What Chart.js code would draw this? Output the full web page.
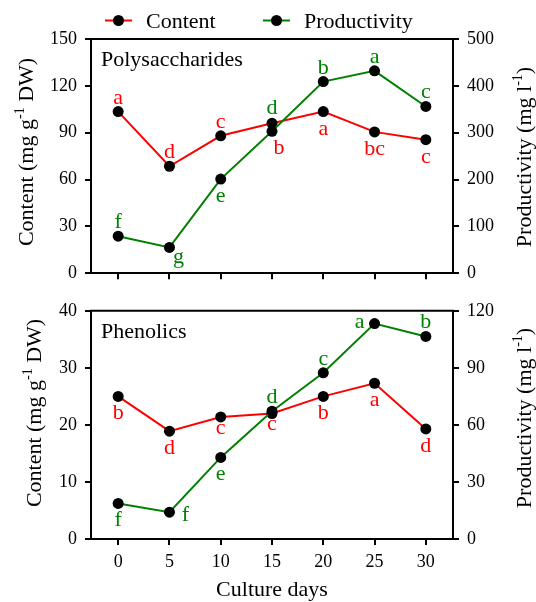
<!DOCTYPE html>
<html><head><meta charset="utf-8">
<script src="https://cdn.jsdelivr.net/npm/chart.js@4.4.1/dist/chart.umd.min.js"></script>
<style>
html,body{margin:0;padding:0;background:#fff;}
#wrap{position:relative;width:536px;height:602px;overflow:hidden;}
canvas{position:absolute;left:0;}
#c1{top:0;} #c2{top:292px;}
</style></head><body>
<div id="wrap"><canvas id="c1" width="536" height="292"></canvas><canvas id="c2" width="536" height="310"></canvas></div>
<script>
// ---- data ----
const days = [0, 5, 10, 15, 20, 25, 30];
const xTickLabels = [0, 5, 10, 15, 20, 25, 30];

const polyContent = [103.5, 68.5, 88, 96, 103.5, 90.5, 85.5];
const polyProductivity = [79, 55, 201, 303, 409, 432, 356];
const polyContentLetters = ['a', 'd', 'c', 'b', 'a', 'bc', 'c'];
const polyProductivityLetters = ['f', 'g', 'e', 'd', 'b', 'a', 'c'];
const polyContentTicks = [0, 30, 60, 90, 120, 150];
const polyProductivityTicks = [0, 100, 200, 300, 400, 500];

const phenContent = [25.0, 18.9, 21.4, 22.0, 25.0, 27.3, 19.3];
const phenProductivity = [18.7, 14.1, 42.9, 67.2, 87.4, 113.3, 106.5];
const phenContentLetters = ['b', 'd', 'c', 'c', 'b', 'a', 'd'];
const phenProductivityLetters = ['f', 'f', 'e', 'd', 'c', 'a', 'b'];
const phenContentTicks = [0, 10, 20, 30, 40];
const phenProductivityTicks = [0, 30, 60, 90, 120];

// ---- label placement (layout only) ----
const polyContentPlace = ['above', 'above', 'above', 'belowFar', 'below', 'below', 'below'];
const polyProductivityPlace = ['above', 'belowRight', 'below', 'aboveFar', 'above', 'above', 'above'];
const phenContentPlace = ['below', 'below', 'belowNear', 'belowNear', 'below', 'below', 'below'];
const phenProductivityPlace = ['below', 'right', 'below', 'above', 'above', 'left', 'above'];

const PLACE = {
  above: [0, -8], aboveFar: [0, -17], below: [0, 23], belowNear: [0, 17],
  belowFar: [7, 31], belowRight: [9, 16], left: [-15, 4], right: [16, 9]
};

const FONT = '"Liberation Serif", "Times New Roman", serif';
const RED = '#ff0000', GREEN = '#008000';
Chart.defaults.font.family = FONT;
Chart.defaults.color = '#000';

function drawRotated(ctx, parts, xb, yc) {
  ctx.save();
  ctx.translate(xb, yc);
  ctx.rotate(-Math.PI / 2);
  ctx.textBaseline = 'alphabetic';
  ctx.textAlign = 'left';
  let total = 0;
  const w = parts.map(p => { ctx.font = p.sup ? '14px ' + FONT : '22px ' + FONT; const m = ctx.measureText(p.t).width; total += m; return m; });
  let x = -total / 2;
  parts.forEach((p, i) => {
    ctx.font = p.sup ? '14px ' + FONT : '22px ' + FONT;
    ctx.fillStyle = '#000';
    ctx.fillText(p.t, x, p.sup ? -9 : 0);
    x += w[i];
  });
  ctx.restore();
}

const overlay = {
  id: 'overlay',
  afterDatasetsDraw(chart, args, o) {
    const ctx = chart.ctx;
    ctx.save();
    ctx.font = '22px ' + FONT;
    ctx.textAlign = 'center';
    ctx.textBaseline = 'alphabetic';
    o.letters.forEach(L => {
      const meta = chart.getDatasetMeta(L.ds);
      ctx.fillStyle = chart.data.datasets[L.ds].borderColor;
      meta.data.forEach((pt, j) => {
        const off = PLACE[L.place[j]];
        ctx.fillText(L.text[j], pt.x + off[0], pt.y + off[1]);
      });
    });
    ctx.restore();
  },
  afterDraw(chart, args, o) {
    const ctx = chart.ctx, ca = chart.chartArea;
    ctx.save();
    ctx.strokeStyle = '#000';
    ctx.lineWidth = 2;
    ctx.beginPath();
    ctx.moveTo(ca.left - 1, ca.top);
    ctx.lineTo(ca.right + 1, ca.top);
    ctx.stroke();
    ctx.fillStyle = '#000';
    ctx.font = '22px ' + FONT;
    ctx.textAlign = 'left';
    ctx.textBaseline = 'alphabetic';
    ctx.fillText(o.panel, ca.left + 10, ca.top + 27);
    drawRotated(ctx, o.leftTitle.parts, o.leftTitle.x, o.leftTitle.y);
    drawRotated(ctx, o.rightTitle.parts, o.rightTitle.x, o.rightTitle.y);
    if (o.xTitle) {
      ctx.textAlign = 'center';
      ctx.font = '22px ' + FONT;
      ctx.fillText(o.xTitle.text, o.xTitle.x, o.xTitle.y);
    }
    if (o.legend) {
      const items = [{ x: 105, ds: 0 }, { x: 263, ds: 1 }];
      const ly = 20.5;
      items.forEach(it => {
        const d = chart.data.datasets[it.ds];
        ctx.strokeStyle = d.borderColor;
        ctx.lineWidth = 2;
        ctx.beginPath();
        ctx.moveTo(it.x, ly);
        ctx.lineTo(it.x + 27, ly);
        ctx.stroke();
        ctx.fillStyle = '#000';
        ctx.beginPath();
        ctx.arc(it.x + 13.5, ly, 5.5, 0, Math.PI * 2);
        ctx.fill();
        ctx.font = '22px ' + FONT;
        ctx.textAlign = 'left';
        ctx.textBaseline = 'alphabetic';
        ctx.fillText(d.label, it.x + 41, ly + 7);
      });
    }
    ctx.restore();
  }
};

function axisCommon() {
  return {
    grid: { drawOnChartArea: false, drawTicks: true, tickLength: 6, color: '#000', lineWidth: 2 },
    border: { display: true, color: '#000', width: 2 },
  };
}

function makePanel(canvas, cfg) {
  const pts = arr => days.map((d, i) => ({ x: d, y: arr[i] }));
  return new Chart(canvas, {
    type: 'line',
    data: {
      datasets: [
        { label: 'Content', data: pts(cfg.content), yAxisID: 'y', borderColor: RED, borderWidth: 2,
          pointRadius: 5.5, pointBackgroundColor: '#000', pointBorderColor: '#000', pointBorderWidth: 0, order: 1, tension: 0 },
        { label: 'Productivity', data: pts(cfg.productivity), yAxisID: 'y1', borderColor: GREEN, borderWidth: 2,
          pointRadius: 5.5, pointBackgroundColor: '#000', pointBorderColor: '#000', pointBorderWidth: 0, order: 0, tension: 0 }
      ]
    },
    options: {
      responsive: false,
      animation: false,
      devicePixelRatio: 1,
      layout: { padding: { top: cfg.padTop, bottom: 0, left: 0, right: 0 }, autoPadding: false },
      plugins: {
        legend: { display: false },
        tooltip: { enabled: false },
        overlay: cfg.overlay
      },
      scales: {
        x: Object.assign(axisCommon(), {
          type: 'linear', position: 'bottom', min: -2.65, max: 32.65,
          afterBuildTicks: s => { s.ticks = xTickLabels.map(v => ({ value: v })); },
          afterFit: s => { s.height = cfg.xHeight; },
          ticks: { display: cfg.xLabels, font: { size: 18 }, color: '#000', padding: 6, maxRotation: 0, autoSkip: false }
        }),
        y: Object.assign(axisCommon(), {
          position: 'left', min: 0, max: cfg.leftTicks[cfg.leftTicks.length - 1],
          afterBuildTicks: s => { s.ticks = cfg.leftTicks.map(v => ({ value: v })); },
          afterFit: s => { s.width = 91; },
          ticks: { font: { size: 18 }, color: '#000', padding: 8 }
        }),
        y1: Object.assign(axisCommon(), {
          position: 'right', min: 0, max: cfg.rightTicks[cfg.rightTicks.length - 1],
          afterBuildTicks: s => { s.ticks = cfg.rightTicks.map(v => ({ value: v })); },
          afterFit: s => { s.width = 83; },
          ticks: { font: { size: 18 }, color: '#000', padding: 8 }
        })
      }
    },
    plugins: [overlay]
  });
}

const contentTitle = [{ t: 'Content (mg g' }, { t: '-1', sup: true }, { t: ' DW)' }];
const prodTitle = [{ t: 'Productivity (mg l' }, { t: '-1', sup: true }, { t: ')' }];

makePanel(document.getElementById('c1'), {
  content: polyContent, productivity: polyProductivity,
  leftTicks: polyContentTicks, rightTicks: polyProductivityTicks,
  padTop: 39, xHeight: 13, xLabels: false,
  overlay: {
    panel: 'Polysaccharides', legend: true,
    letters: [
      { ds: 0, text: polyContentLetters, place: polyContentPlace },
      { ds: 1, text: polyProductivityLetters, place: polyProductivityPlace }
    ],
    leftTitle: { parts: contentTitle, x: 33, y: 152 },
    rightTitle: { parts: prodTitle, x: 531, y: 157 },
    xTitle: null
  }
});

makePanel(document.getElementById('c2'), {
  content: phenContent, productivity: phenProductivity,
  leftTicks: phenContentTicks, rightTicks: phenProductivityTicks,
  padTop: 8, xHeight: 63, xLabels: true,
  overlay: {
    panel: 'Phenolics', legend: false,
    letters: [
      { ds: 0, text: phenContentLetters, place: phenContentPlace },
      { ds: 1, text: phenProductivityLetters, place: phenProductivityPlace }
    ],
    leftTitle: { parts: contentTitle, x: 41, y: 413 - 292 },
    rightTitle: { parts: prodTitle, x: 531, y: 418 - 292 },
    xTitle: { text: 'Culture days', x: 272, y: 596 - 292 }
  }
});
</script>
</body></html>
